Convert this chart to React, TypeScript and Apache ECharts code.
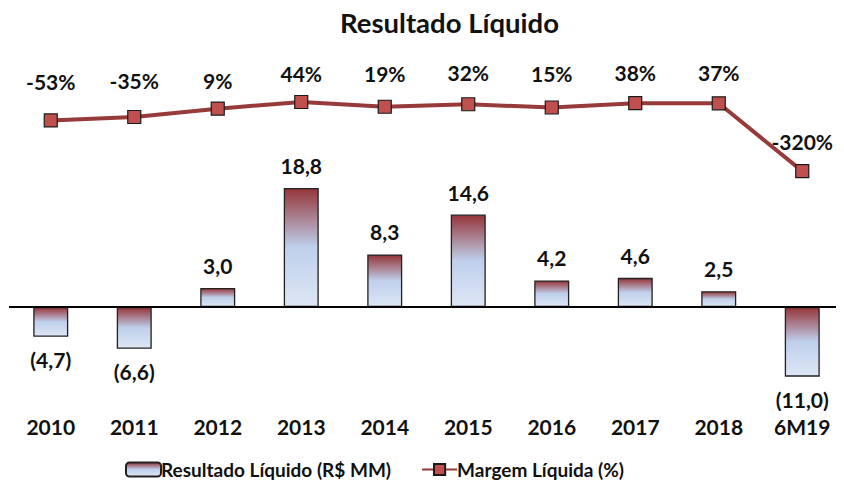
import React, { useEffect, useRef } from "react";
import * as echarts from "echarts";

const categories = ["2010", "2011", "2012", "2013", "2014", "2015", "2016", "2017", "2018", "6M19"];
const resultado = [-4.7, -6.6, 3.0, 18.8, 8.3, 14.6, 4.2, 4.6, 2.5, -11.0];
const margem = [-53, -35, 9, 44, 19, 32, 15, 38, 37, -320];

// label distance (style) for each margin label
const margemLabelDistance = [21, 19, 11, 11, 16, 14, 16, 13, 13, 12];

const FONT = "Lato, 'Open Sans', sans-serif";

function fmtBar(v: number): string {
  const s = Math.abs(v).toFixed(1).replace(".", ",");
  return v < 0 ? `(${s})` : s;
}

export default function App() {
  const ref = useRef<HTMLDivElement>(null);
  useEffect(() => {
    if (!ref.current) return;
    const chart = echarts.init(ref.current, undefined, { renderer: "svg" });
    const barGradient = new echarts.graphic.LinearGradient(0, 0, 0, 1, [
      { offset: 0, color: "#953539" },
      { offset: 0.5, color: "#BFD0EC" },
      { offset: 1, color: "#DDE6F4" },
    ]);
    const labelText = {
      fontFamily: FONT,
      fontWeight: "bold" as const,
      fontSize: 21,
      color: "#111",
    };
    chart.setOption({
      animation: false,
      title: {
        text: "Resultado Líquido",
        left: 340,
        top: 8,
        padding: 0,
        textStyle: { ...labelText, fontSize: 27.5 },
      },
      grid: { left: 9, width: 839, top: 60, height: 342 },
      legend: {
        left: 120,
        top: 455,
        itemWidth: 35,
        itemHeight: 14,
        itemGap: 30,
        textStyle: { ...labelText, fontSize: 19, padding: [0, 0, 0, -5] },
        data: [
          { name: "Resultado Líquido (R$ MM)" },
          { name: "Margem Líquida (%)" },
        ],
      },
      xAxis: {
        type: "category",
        data: categories,
        axisLine: { show: false, onZero: false },
        axisTick: { show: false },
        axisLabel: { ...labelText, margin: 14 },
      },
      yAxis: [
        { type: "value", min: -15, max: 39, show: false, splitLine: { show: false } },
        { type: "value", min: -1535, max: 265, show: false, splitLine: { show: false } },
      ],
      series: [
        {
          name: "Resultado Líquido (R$ MM)",
          type: "bar",
          yAxisIndex: 0,
          barWidth: 35,
          itemStyle: { color: barGradient, borderColor: "#222", borderWidth: 1.3 },
          data: resultado.map((v) => ({
            value: v,
            label: {
              show: true,
              position: v < 0 ? "bottom" : "top",
              distance: 12,
              formatter: () => fmtBar(v),
              ...labelText,
            },
          })),
          markLine: {
            silent: true,
            symbol: "none",
            label: { show: false },
            lineStyle: { color: "#000", width: 2, type: "solid" },
            data: [{ yAxis: 0 }],
          },
          z: 2,
        },
        {
          name: "Margem Líquida (%)",
          type: "line",
          yAxisIndex: 1,
          symbol: "rect",
          symbolSize: 13,
          lineStyle: { color: "#973A3A", width: 4 },
          itemStyle: { color: "#C0504D", borderColor: "#1a1a1a", borderWidth: 1.2 },
          data: margem.map((v, i) => ({
            value: v,
            label: {
              show: true,
              position: "top",
              distance: margemLabelDistance[i],
              formatter: () => `${v}%`,
              ...labelText,
            },
          })),
          z: 3,
        },
      ],
    });
    return () => chart.dispose();
  }, []);
  return <div ref={ref} style={{ width: 844, height: 488, margin: -8 }} />;
}
